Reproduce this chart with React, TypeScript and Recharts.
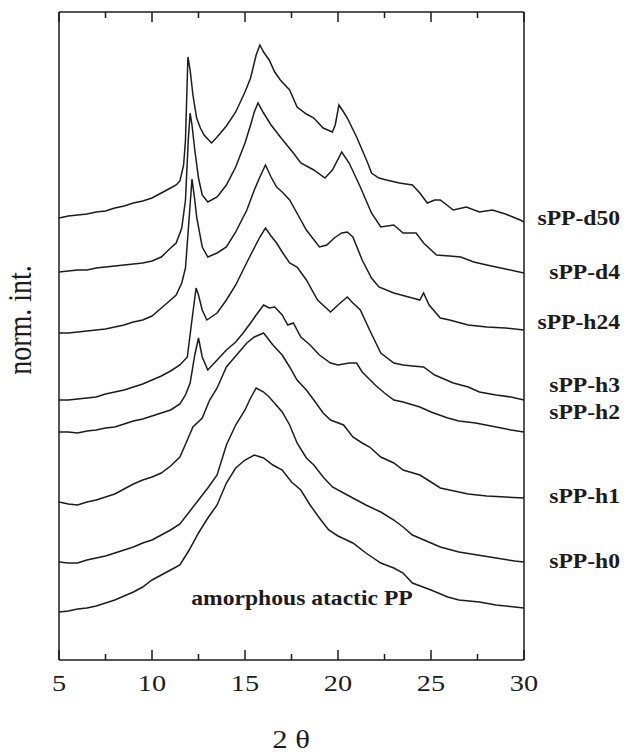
import React from "react";
import { LineChart, Line, XAxis, YAxis } from "recharts";

// 2-theta tick values: labelled majors and unlabelled minors
const majorTicks = [5, 10, 15, 20, 25, 30];
const minorTicks = [7.5, 12.5, 17.5, 22.5, 27.5];

// diffractograms, [2theta, normalised intensity + vertical offset]
const sppD50: [number, number][] = [
  [5, 442], [5.5, 444], [6, 445], [6.5, 446], [7, 448], [7.5, 449], [8, 452], [8.5, 454],
  [9, 457], [9.5, 459], [10, 462], [10.5, 467], [11, 472], [11.3, 475], [11.5, 479],
  [11.7, 495], [11.8, 520], [11.93, 603], [12.05, 590], [12.2, 565], [12.4, 542],
  [12.6, 532], [12.8, 525], [13.2, 517], [13.5, 523], [14, 534], [14.5, 548], [15, 568],
  [15.3, 582], [15.6, 605], [15.8, 615], [16, 608], [16.3, 600], [16.6, 588], [16.9, 580],
  [17.4, 570], [17.8, 553], [18.3, 546], [18.7, 542], [19.2, 532], [19.7, 528],
  [19.85, 535], [20.05, 555], [20.3, 548], [20.5, 542], [21, 523], [21.3, 510],
  [21.6, 497], [21.8, 487], [22.2, 482], [22.6, 480], [23.3, 477], [24, 475], [24.4, 467],
  [24.8, 457], [25.2, 460], [25.5, 460], [26.2, 450], [26.9, 453], [27.6, 448],
  [28.3, 450], [29, 446], [29.4, 443], [29.8, 440], [30, 438],
];

const sppD4: [number, number][] = [
  [5, 388], [5.5, 389], [6, 390], [6.5, 390], [7, 392], [7.5, 393], [8, 394], [8.5, 395],
  [9, 396], [9.5, 397], [10, 399], [10.5, 403], [11, 412], [11.3, 417], [11.6, 432],
  [11.8, 460], [11.95, 520], [12.05, 547], [12.15, 535], [12.3, 510], [12.5, 482],
  [12.7, 465], [13, 458], [13.5, 463], [14, 475], [14.5, 493], [15, 517], [15.3, 535],
  [15.5, 548], [15.7, 557], [16, 547], [16.4, 535], [16.9, 523], [17.6, 507], [18, 497],
  [18.7, 490], [19.3, 482], [19.7, 490], [20.2, 508], [20.6, 497], [21.2, 473],
  [21.5, 460], [21.8, 447], [22.3, 433], [23, 435], [23.5, 427], [24.2, 427], [24.6, 417],
  [25.3, 405], [26, 404], [26.6, 403], [27.3, 398], [28, 395], [29, 391], [30, 387],
];

const sppH24: [number, number][] = [
  [5, 327], [5.5, 327], [6, 328], [6.5, 329], [7, 330], [7.5, 331], [8, 333], [8.5, 335],
  [9, 338], [9.5, 340], [10, 344], [10.5, 352], [11, 360], [11.3, 365], [11.6, 377],
  [11.8, 392], [11.95, 430], [12.15, 481], [12.3, 460], [12.4, 443], [12.7, 413],
  [13, 403], [13.5, 407], [14, 413], [14.5, 428], [15.1, 450], [15.5, 470], [15.8, 483],
  [16.1, 495], [16.4, 483], [16.7, 473], [17, 468], [17.4, 460], [18, 440], [18.3, 430],
  [19, 413], [19.4, 415], [19.8, 422], [20.2, 427], [20.5, 428], [20.8, 423], [21.3, 400],
  [21.8, 382], [22.2, 373], [23, 367], [24, 362], [24.4, 360], [24.6, 367], [24.9, 355],
  [25.5, 342], [26, 340], [27, 335], [28, 333], [29, 332], [30, 330],
];

const sppH3: [number, number][] = [
  [5, 260], [5.5, 260], [6, 261], [6.5, 262], [7, 263], [7.5, 266], [8, 268], [8.5, 270],
  [9, 273], [9.5, 276], [10, 280], [10.5, 284], [11, 289], [11.5, 295], [11.9, 303],
  [12.1, 333], [12.37, 372], [12.5, 365], [12.7, 350], [12.95, 340], [13.5, 347],
  [14, 360], [14.5, 375], [14.9, 390], [15.3, 405], [15.8, 423], [16.1, 432], [16.4, 424],
  [16.7, 417], [17, 408], [17.4, 397], [17.8, 393], [18.3, 380], [18.9, 360], [19.6, 348],
  [20, 355], [20.5, 363], [20.8, 357], [21.2, 350], [21.7, 330], [22.3, 307], [23, 297],
  [23.5, 295], [24, 294], [24.6, 293], [25.2, 285], [26.2, 277], [27, 273], [27.6, 268],
  [28.5, 265], [29.3, 263], [30, 260],
];

const sppH2: [number, number][] = [
  [5, 228], [5.5, 228], [6, 227], [6.5, 229], [7, 230], [7.5, 232], [8, 233], [8.5, 236],
  [9, 239], [9.5, 241], [10, 244], [10.5, 247], [11, 250], [11.5, 256], [11.8, 265],
  [12.05, 277], [12.3, 305], [12.5, 322], [12.7, 303], [13, 290], [13.5, 300], [14, 310],
  [14.5, 318], [14.9, 327], [15.3, 337], [15.6, 345], [16, 355], [16.3, 352], [16.6, 353],
  [17, 345], [17.3, 335], [17.6, 337], [18, 323], [18.5, 315], [19, 305], [19.6, 297],
  [20, 295], [20.6, 297], [21, 297], [21.3, 288], [22, 275], [22.5, 267], [23, 260],
  [23.5, 258], [24.4, 253], [25, 248], [25.9, 242], [26.5, 239], [27.4, 237], [28.5, 233],
  [29.3, 230], [30, 228],
];

const sppH1: [number, number][] = [
  [5, 158], [5.5, 156], [6, 155], [6.5, 158], [7, 160], [7.5, 163], [8, 166], [8.5, 171],
  [9, 176], [9.5, 180], [10, 183], [10.5, 187], [11, 194], [11.5, 203], [11.9, 220],
  [12.2, 233], [12.7, 242], [13.1, 260], [13.5, 272], [14, 293], [14.5, 304], [15.1, 317],
  [15.5, 323], [16, 327], [16.5, 315], [17, 305], [17.4, 293], [17.8, 280], [18.3, 270],
  [18.7, 260], [19.2, 247], [19.6, 240], [20.3, 235], [20.8, 223], [21.3, 217],
  [21.7, 213], [22.3, 203], [23, 197], [23.5, 190], [24.4, 185], [25, 178], [25.5, 172],
  [26, 170], [27, 166], [28, 164], [29, 163], [30, 162],
];

const sppH0: [number, number][] = [
  [5, 98], [5.5, 97], [6, 97], [6.5, 100], [7, 102], [7.5, 104], [8, 107], [8.5, 110],
  [9, 113], [9.5, 117], [10, 120], [10.5, 125], [11, 130], [11.5, 136], [12, 148],
  [12.5, 160], [13, 172], [13.5, 185], [14, 215], [14.5, 235], [15, 250], [15.3, 262],
  [15.6, 272], [16, 268], [16.3, 263], [17, 248], [17.4, 235], [17.8, 217], [18.3, 202],
  [18.7, 195], [19.2, 183], [19.7, 173], [20.3, 167], [21, 160], [21.5, 155], [22.3, 148],
  [23, 140], [23.5, 133], [24, 125], [25, 117], [25.5, 113], [26.5, 108], [27.5, 105],
  [28.5, 102], [29.5, 99], [30, 98],
];

const atacticPP: [number, number][] = [
  [5, 48], [5.5, 49], [6, 51], [6.5, 52], [7, 54], [7.5, 57], [8, 60], [8.5, 64],
  [9, 68], [9.5, 73], [10, 80], [10.5, 85], [11, 90], [11.5, 95], [12, 110], [12.5, 127],
  [13, 142], [13.5, 155], [14, 177], [14.5, 192], [15, 200], [15.5, 205], [16, 202],
  [16.5, 195], [17, 190], [17.5, 178], [18, 170], [18.5, 155], [19, 142], [19.5, 130],
  [20, 124], [20.8, 117], [21.5, 107], [22.3, 97], [23, 92], [23.5, 87], [24, 77],
  [25, 70], [25.9, 63], [26.5, 60], [27.6, 58], [28.5, 55], [29.5, 53], [30, 52],
];

const sampleNames = ["sPP-d50", "sPP-d4", "sPP-h24", "sPP-h3", "sPP-h2", "sPP-h1", "sPP-h0"];

const curves = [sppD50, sppD4, sppH24, sppH3, sppH2, sppH1, sppH0, atacticPP];

// baselines (px) of the sample names on the right
const nameY = [225, 279, 329, 392, 419, 503, 568];

// plot frame in page pixels
const BOX = { left: 59, right: 524, top: 12, bottom: 660 };
const X_MIN = 5;
const X_MAX = 30;
const Y_MAX = 648;
const FONT = "'Liberation Serif', 'Times New Roman', serif";
const INK = "#1c1c1c";
const SX = 1.18; // the original lettering is a bit wide

const toPoints = (arr: [number, number][]) => arr.map(([x, y]) => ({ x, y }));
const tickX = (t: number) => BOX.left + ((t - X_MIN) / (X_MAX - X_MIN)) * (BOX.right - BOX.left);

const BottomLabel = (props: any) => {
  const { x, y, payload } = props;
  return (
    <text
      transform={`translate(${x},${y + 31}) scale(${SX},1)`}
      textAnchor="middle"
      fontFamily={FONT}
      fontSize={24}
      fill={INK}
    >
      {payload.value}
    </text>
  );
};

const axisLine = { stroke: INK, strokeWidth: 1.5 };

const App = () => {
  const ticks = [
    ...majorTicks.map((t) => ({ t, len: 10 })),
    ...minorTicks.map((t) => ({ t, len: 6 })),
  ];
  return (
    <div style={{ position: "absolute", left: 0, top: 0, width: 624, height: 752, background: "#fff" }}>
      <LineChart
        width={624}
        height={752}
        margin={{ top: BOX.top - 10, right: 624 - BOX.right - 10, bottom: 752 - BOX.bottom - 30, left: BOX.left - 10 }}
      >
        <XAxis
          xAxisId="b"
          type="number"
          dataKey="x"
          domain={[X_MIN, X_MAX]}
          ticks={majorTicks}
          interval={0}
          height={30}
          tickSize={0}
          tickMargin={0}
          tickLine={false}
          axisLine={axisLine}
          tick={<BottomLabel />}
          allowDataOverflow
        />
        <XAxis
          xAxisId="t"
          orientation="top"
          type="number"
          dataKey="x"
          domain={[X_MIN, X_MAX]}
          height={10}
          tick={false}
          tickLine={false}
          axisLine={axisLine}
          allowDataOverflow
        />
        <YAxis yAxisId="l" type="number" domain={[0, Y_MAX]} width={10} tick={false} tickLine={false} axisLine={axisLine} allowDataOverflow />
        <YAxis yAxisId="r" orientation="right" type="number" domain={[0, Y_MAX]} width={10} tick={false} tickLine={false} axisLine={axisLine} allowDataOverflow />
        {curves.map((c, i) => (
          <Line
            key={i}
            xAxisId="b"
            yAxisId="l"
            data={toPoints(c)}
            dataKey="y"
            type="linear"
            stroke={INK}
            strokeWidth={1.5}
            dot={false}
            activeDot={false}
            isAnimationActive={false}
          />
        ))}
      </LineChart>
      <svg
        width={624}
        height={752}
        style={{ position: "absolute", left: 0, top: 0, pointerEvents: "none" }}
        fontFamily={FONT}
        fill={INK}
      >
        {/* inward tick marks on bottom and top of the frame */}
        {ticks.map(({ t, len }) => (
          <g key={t} stroke={INK} strokeWidth={1.5}>
            <line x1={tickX(t)} x2={tickX(t)} y1={BOX.bottom} y2={BOX.bottom - len} />
            <line x1={tickX(t)} x2={tickX(t)} y1={BOX.top} y2={BOX.top + len} />
          </g>
        ))}
        <text transform={`translate(31,320) scale(${SX},1) rotate(-90)`} textAnchor="middle" fontSize={28}>
          norm. int.
        </text>
        <text transform={`translate(291,748) scale(${SX},1)`} textAnchor="middle" fontSize={26}>
          2 θ
        </text>
        <text transform={`translate(302,605) scale(${SX},1)`} textAnchor="middle" fontSize={20} fontWeight="bold">
          amorphous atactic PP
        </text>
        {sampleNames.map((n, i) => (
          <text
            key={n}
            transform={`translate(620,${nameY[i]}) scale(${SX},1)`}
            textAnchor="end"
            fontSize={20}
            fontWeight="bold"
          >
            {n}
          </text>
        ))}
      </svg>
    </div>
  );
};

export default App;
